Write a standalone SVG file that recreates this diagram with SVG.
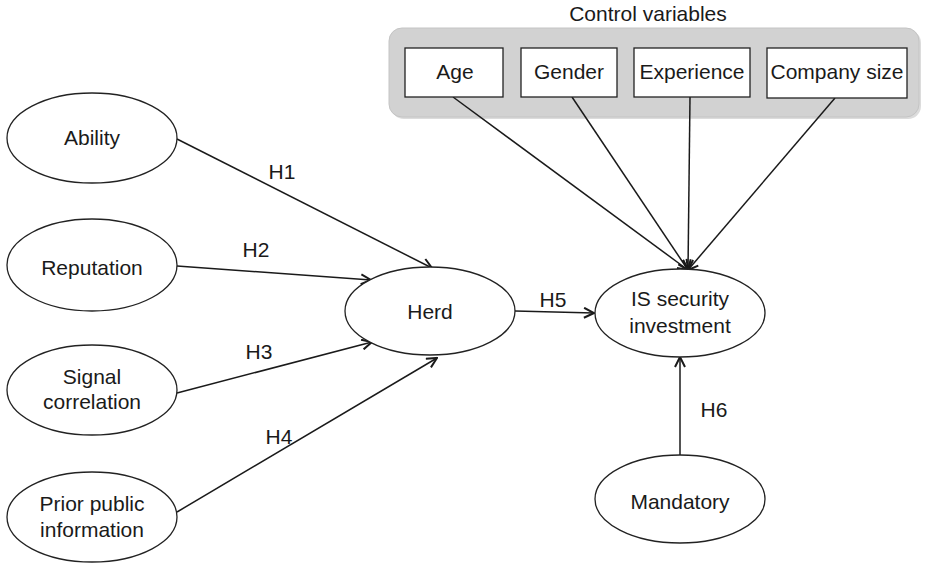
<svg xmlns="http://www.w3.org/2000/svg" width="925" height="566" viewBox="0 0 925 566">
  <defs>
    <marker id="arrow" viewBox="0 0 12 12" refX="11" refY="6" markerWidth="12" markerHeight="12" markerUnits="userSpaceOnUse" orient="auto">
      <path d="M1,1 L11,6 L1,11" fill="none" stroke="#1a1a1a" stroke-width="2"/>
    </marker>
  </defs>
  <style>
    text { font-family: "Liberation Sans", Arial, sans-serif; font-size: 21px; fill: #1a1a1a; text-anchor: middle; }
    ellipse { fill: #ffffff; stroke: #222222; stroke-width: 1.3; }
    .box { fill: #ffffff; stroke: #222222; stroke-width: 1.3; }
    .edge { stroke: #1a1a1a; stroke-width: 1.5; fill: none; marker-end: url(#arrow); }
  </style>

  <rect width="925" height="566" fill="#ffffff"/>

  <!-- control variable panel -->
  <g id="control-variables">
    <text x="648" y="21">Control variables</text>
    <rect x="391" y="30" width="530" height="89" rx="13" fill="#b9b9b9" opacity="0.5"/>
    <rect x="389" y="28" width="530" height="89" rx="13" fill="#d2d2d2" stroke="#c4c4c4" stroke-width="1"/>
  </g>

  <!-- connectors -->
  <g id="connectors">
    <line class="edge" x1="177" y1="139" x2="432" y2="268"/>
    <line class="edge" x1="177" y1="266" x2="371" y2="280"/>
    <line class="edge" x1="177" y1="393" x2="372" y2="342"/>
    <line class="edge" x1="177" y1="512" x2="437" y2="358"/>
    <line class="edge" x1="515" y1="311" x2="594" y2="313"/>
    <line class="edge" x1="680" y1="455" x2="680" y2="357"/>
    <line class="edge" x1="453" y1="97" x2="688" y2="270"/>
    <line class="edge" x1="572" y1="97" x2="688" y2="270"/>
    <line class="edge" x1="690" y1="97" x2="688" y2="270"/>
    <line class="edge" x1="835" y1="98" x2="688" y2="270"/>
    <text x="282" y="179">H1</text>
    <text x="256" y="257">H2</text>
    <text x="259" y="359">H3</text>
    <text x="279" y="444">H4</text>
    <text x="553" y="307">H5</text>
    <text x="714" y="417">H6</text>
  </g>

  <g id="age">
    <rect class="box" x="405" y="48" width="98" height="49"/>
    <text x="455" y="79">Age</text>
  </g>
  <g id="gender">
    <rect class="box" x="521" y="48" width="96" height="49"/>
    <text x="569" y="79">Gender</text>
  </g>
  <g id="experience">
    <rect class="box" x="634" y="48" width="116" height="49"/>
    <text x="692" y="79">Experience</text>
  </g>
  <g id="company-size">
    <rect class="box" x="767" y="48" width="140" height="50"/>
    <text x="837" y="79">Company size</text>
  </g>

  <g id="ability">
    <ellipse cx="92" cy="138" rx="85" ry="45"/>
    <text x="92" y="145">Ability</text>
  </g>
  <g id="reputation">
    <ellipse cx="92" cy="265" rx="85" ry="46"/>
    <text x="92" y="275">Reputation</text>
  </g>
  <g id="signal-correlation">
    <ellipse cx="92" cy="390" rx="85" ry="45"/>
    <text x="92" y="384">Signal</text>
    <text x="92" y="409">correlation</text>
  </g>
  <g id="prior-public-information">
    <ellipse cx="92" cy="517" rx="85" ry="45"/>
    <text x="92" y="511">Prior public</text>
    <text x="92" y="537">information</text>
  </g>
  <g id="herd">
    <ellipse cx="430" cy="311" rx="85" ry="44"/>
    <text x="430" y="319">Herd</text>
  </g>
  <g id="is-security-investment">
    <ellipse cx="680" cy="313" rx="85" ry="44"/>
    <text x="680" y="306">IS security</text>
    <text x="680" y="333">investment</text>
  </g>
  <g id="mandatory">
    <ellipse cx="680" cy="499" rx="85" ry="44"/>
    <text x="680" y="509">Mandatory</text>
  </g>
</svg>
